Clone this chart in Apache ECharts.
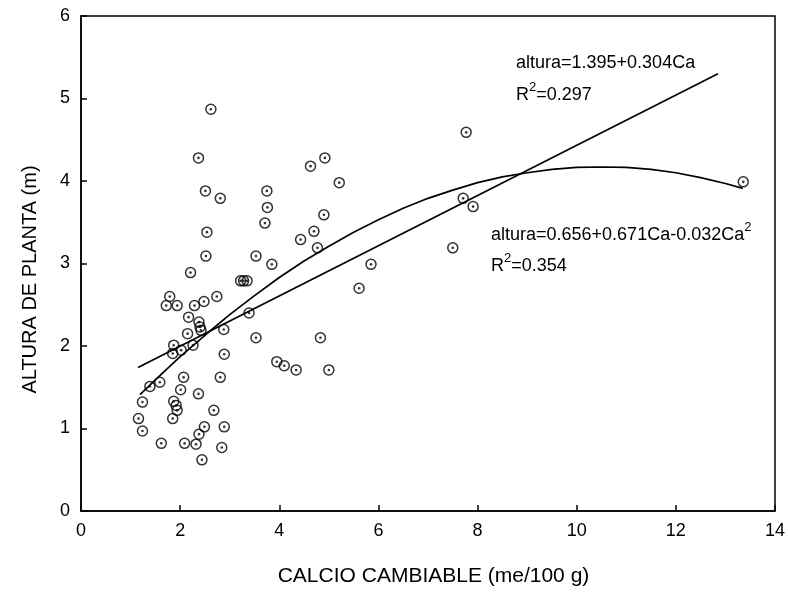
<!DOCTYPE html>
<html>
<head>
<meta charset="utf-8">
<script src="https://cdn.jsdelivr.net/npm/echarts@6/dist/echarts.min.js"></script>
<style>
html, body { margin: 0; padding: 0; background: #fff; }
#chart { width: 788px; height: 593px; }
</style>
</head>
<body>
<div id="chart"></div>
<script>
// calcio cambiable (me/100 g) vs altura de planta (m), one entry per plant
const calcio = [
  2.62, 2.37, 2.51, 2.81, 3.75, 3.76, 3.71, 4.63, 2.54, 2.52,
  2.21, 3.53, 3.85, 3.22, 3.28, 3.35, 4.43, 4.70, 4.77, 4.92,
  5.21, 4.90, 7.77, 7.71, 7.91, 7.50, 5.85, 5.61, 4.83, 13.36,
  3.95, 4.10, 4.34, 5.00, 1.79, 1.72, 1.94, 2.48, 2.29, 2.74,
  2.17, 2.38, 2.40, 2.42, 2.15, 2.88, 3.39, 3.53, 1.87, 1.85,
  2.02, 2.26, 2.89, 1.59, 1.39, 2.07, 2.81, 2.01, 2.37, 1.24,
  1.87, 1.92, 1.94, 1.85, 2.68, 1.16, 1.24, 2.49, 2.89, 2.38,
  1.62, 2.09, 2.32, 2.84, 2.44
];
const altura = [
  4.87, 4.28, 3.88, 3.79, 3.88, 3.68, 3.49, 4.18, 3.38, 3.09,
  2.89, 3.09, 2.99, 2.79, 2.79, 2.79, 3.29, 3.39, 3.19, 4.28,
  3.98, 3.59, 4.59, 3.79, 3.69, 3.19, 2.99, 2.70, 2.10, 3.99,
  1.81, 1.76, 1.71, 1.71, 2.60, 2.49, 2.49, 2.54, 2.49, 2.60,
  2.35, 2.29, 2.23, 2.19, 2.15, 2.20, 2.40, 2.10, 2.01, 1.91,
  1.95, 2.01, 1.90, 1.56, 1.51, 1.62, 1.62, 1.47, 1.42, 1.32,
  1.33, 1.28, 1.22, 1.12, 1.22, 1.12, 0.97, 1.02, 1.02, 0.93,
  0.82, 0.82, 0.81, 0.77, 0.62
];

// fitted lines as drawn
const linealX = [1.15, 12.85];
const linealY = [1.74, 5.30];
const cuadX = [1.19, 1.5, 2, 2.5, 3, 3.5, 4, 4.5, 5, 5.5, 6, 6.5, 7, 7.5, 8, 8.5, 9, 9.5, 10, 10.5, 11, 11.5, 12, 12.5, 13, 13.35];
const cuadY = [1.41, 1.59, 1.87, 2.13, 2.38, 2.61, 2.83, 3.03, 3.21, 3.38, 3.53, 3.67, 3.79, 3.89, 3.98, 4.05, 4.10, 4.14, 4.166, 4.17, 4.165, 4.14, 4.10, 4.04, 3.97, 3.91];

const xMin = 0, xMax = 14, xStep = 2;
const yMin = 0, yMax = 6, yStep = 1;

const font = '"Liberation Sans", Arial, sans-serif';
const pts = calcio.map((c, i) => [c, altura[i]]);
const pairs = (xs, ys) => xs.map((x, i) => [x, ys[i]]);

const rich = {
  t: { fontSize: 18, fontFamily: font, color: '#000', lineHeight: 20, padding: [8, 0, 0, 0] },
  s: { fontSize: 13, fontFamily: font, color: '#000', lineHeight: 12, verticalAlign: 'top' }
};
function label(x, y, text) {
  return { type: 'text', x: x, y: y, z: 10, style: { text: text, rich: rich } };
}

const chart = echarts.init(document.getElementById('chart'));
chart.setOption({
  animation: false,
  backgroundColor: '#fff',
  grid: { left: 81, right: 12, top: 16, bottom: 82, show: true, borderColor: '#000', borderWidth: 1.5 },
  xAxis: {
    type: 'value', min: xMin, max: xMax, interval: xStep,
    name: 'CALCIO CAMBIABLE (me/100 g)', nameLocation: 'middle', nameGap: 55,
    nameTextStyle: { fontSize: 21, fontFamily: font, color: '#000', padding: [0, 0, 0, 11] },
    axisLine: { lineStyle: { color: '#000', width: 1.5 } },
    axisTick: { inside: true, length: 6, lineStyle: { color: '#000', width: 1.5 } },
    axisLabel: { fontSize: 18, fontFamily: font, color: '#000', margin: 11 },
    splitLine: { show: false }
  },
  yAxis: {
    type: 'value', min: yMin, max: yMax, interval: yStep,
    name: 'ALTURA DE PLANTA (m)', nameLocation: 'middle', nameGap: 41, nameRotate: 90,
    nameTextStyle: { fontSize: 20, fontFamily: font, color: '#000', padding: [0, 32, 0, 0] },
    axisLine: { lineStyle: { color: '#000', width: 1.5 } },
    axisTick: { inside: true, length: 6, lineStyle: { color: '#000', width: 1.5 } },
    axisLabel: { fontSize: 18, fontFamily: font, color: '#000', margin: 11 },
    splitLine: { show: false }
  },
  series: [
    {
      type: 'line', data: pairs(linealX, linealY), showSymbol: false,
      lineStyle: { color: '#000', width: 1.7 }, z: 3
    },
    {
      type: 'line', data: pairs(cuadX, cuadY), showSymbol: false,
      lineStyle: { color: '#000', width: 1.7 }, z: 3
    },
    {
      type: 'scatter', data: pts, symbol: 'circle', symbolSize: 10,
      itemStyle: { color: 'rgba(0,0,0,0)', borderColor: '#000', borderWidth: 1.5 }, z: 4
    },
    {
      type: 'scatter', data: pts, symbol: 'circle', symbolSize: 2.6,
      itemStyle: { color: '#000' }, z: 5
    }
  ],
  graphic: [
    label(516, 49, '{t|altura=1.395+0.304Ca}'),
    label(516, 81, '{t|R}{s|2}{t|=0.297}'),
    label(491, 221, '{t|altura=0.656+0.671Ca-0.032Ca}{s|2}'),
    label(491, 252, '{t|R}{s|2}{t|=0.354}')
  ]
});
</script>
</body>
</html>
